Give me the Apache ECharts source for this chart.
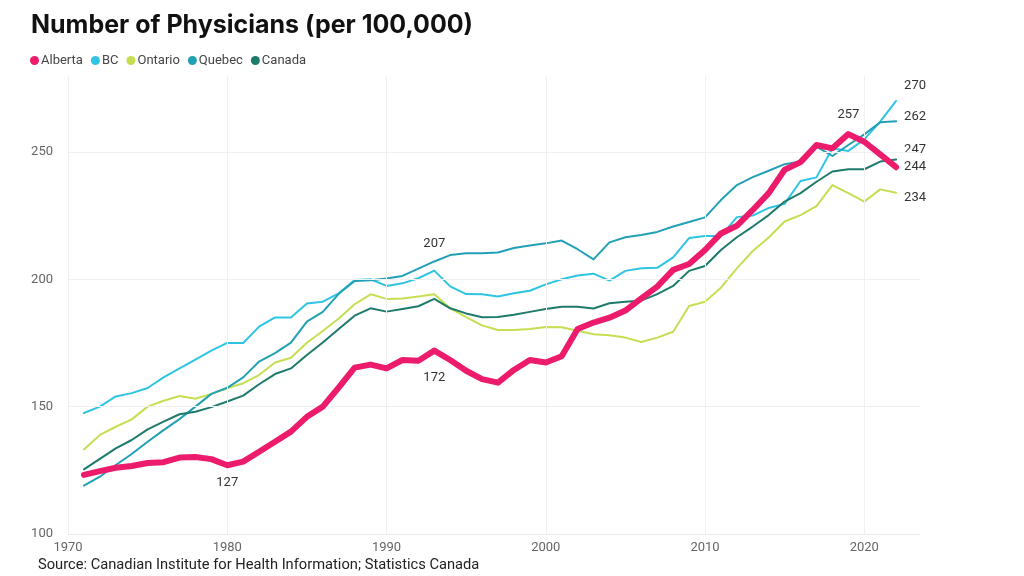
<!DOCTYPE html>
<html>
<head>
<meta charset="utf-8">
<script src="https://cdn.jsdelivr.net/npm/echarts@6/dist/echarts.min.js"></script>
<style>
html,body{margin:0;padding:0;background:#fff;}
#chart{width:1024px;height:576px;}
</style>
</head>
<body>
<div id="chart"></div>
<script>
var years = [];
for (var yr = 1971; yr <= 2022; yr++) years.push(yr);

var alberta = [123.2,124.7,126,126.7,127.9,128.2,130,130.2,129.4,127,128.4,132.3,136.2,140.2,146,150,157.5,165.3,166.5,165,168.3,168,172,168.3,164.1,160.8,159.4,164.4,168.3,167.3,169.8,180.5,183,184.9,187.7,192.5,197.1,203.7,206,211.5,218,221,227.2,233.8,243,246,252.7,251.4,257,254,249,244];
var bc = [147.5,150,154,155.3,157.3,161.5,165,168.5,172,175,175,181.4,185,185,190.5,191.2,194.5,199.7,200,197.4,198.4,200.4,203.4,197.2,194.2,194.1,193.2,194.5,195.5,198,200,201.5,202.2,199.5,203.3,204.3,204.5,208.6,216.2,217,217,224.4,225,228,229.6,238.6,240,251.4,250.4,254.9,261.9,270];
var ontario = [133.2,138.9,142.1,145,150,152.3,154.2,153.1,155,157.2,159.2,162.4,167.3,169.2,175.1,179.7,184.6,190.2,194.1,192.3,192.5,193.2,194.1,188.6,185.1,181.9,180.1,180.1,180.5,181.3,181.2,179.8,178.4,178,177.1,175.4,177.1,179.4,189.5,191.2,196.7,204.3,211.1,216.4,222.7,225.2,228.7,237,233.8,230.5,235.3,234];
var quebec = [119,122.5,127.1,131.4,136.2,140.8,145.1,150,155,157.4,161.5,167.7,171,175.1,183.4,187.2,194.3,199.3,199.6,200.3,201.3,204.2,207,209.5,210.2,210.2,210.5,212.3,213.3,214.1,215.2,211.8,207.8,214.5,216.5,217.4,218.6,220.7,222.5,224.3,231.1,237,240.1,242.6,245.2,246.2,252.1,248.4,252.7,256.9,261.6,262];
var canada = [125.4,129.5,133.6,136.9,141.1,144.1,147,148,149.8,152,154.3,158.8,162.8,165,170.3,175.2,180.5,185.7,188.6,187.3,188.3,189.4,192.3,188.6,186.6,185.1,185.2,186.1,187.2,188.3,189.2,189.2,188.5,190.6,191.2,191.6,194.2,197.4,203.3,205.2,211.5,216.5,220.7,225.2,230.5,233.8,238.3,242.3,243.2,243.2,246.2,247];

var seriesNames = ['Alberta','BC','Ontario','Quebec','Canada'];
var seriesData = [alberta, bc, ontario, quebec, canada];
var colors = ['#EC1B6B','#2FC5E2','#C6DE52','#22A0B6','#1E7B6B'];
var widths = [6, 2, 2, 2, 2];

var yTicks = [150, 200, 250];
var xTicks = [1970, 1980, 1990, 2000, 2010, 2020];

// labelled points: series index -> list of [year, dx, dy, align]
var labelSpec = {
  0: [[1980,0,18,'center'],[1993,0,27,'center'],[2019,0,-19,'center'],[2022,8,0,'left']],
  1: [[2022,8,-15,'left']],
  2: [[2022,8,5,'left']],
  3: [[1993,0,-18,'center'],[2022,8,-5,'left']],
  4: [[2022,8,-10,'left']]
};

var series = [];
series.push({
  name: '_grid', type: 'line', data: [[1970,100]], symbol: 'none',
  lineStyle: { opacity: 0 }, silent: true, z: 0, legendHoverLink: false,
  markLine: {
    silent: true, symbol: 'none', label: { show: false },
    lineStyle: { color: '#f0f0f0', type: 'solid', width: 1 },
    data: yTicks.map(function(v){ return { yAxis: v }; })
      .concat(xTicks.map(function(v){ return { xAxis: v }; }))
  }
});

seriesData.forEach(function(arr, si){
  var spec = labelSpec[si] || [];
  var data = arr.map(function(v, i){
    var item = { value: [years[i], v] };
    spec.forEach(function(s){
      if (s[0] === years[i]) {
        item.label = {
          show: true, position: [s[1], s[2]], align: s[3], verticalAlign: 'middle',
          formatter: function(p){ return Math.round(p.value[1]); },
          fontFamily: 'Roboto', fontSize: 13, color: '#333'
        };
      }
    });
    return item;
  });
  series.push({
    name: seriesNames[si], type: 'line', data: data,
    symbol: 'circle', symbolSize: 0, showSymbol: true, showAllSymbol: true,
    smooth: false, color: colors[si],
    lineStyle: { width: widths[si], color: colors[si], cap: 'round', join: 'round' },
    z: si === 0 ? 5 : 3,
    label: { show: false },
    labelLayout: { hideOverlap: false },
    emphasis: { disabled: true }
  });
});

var chart = echarts.init(document.getElementById('chart'), null, { renderer: 'canvas' });
chart.setOption({
  animation: false,
  backgroundColor: '#ffffff',
  title: {
    text: 'Number of Physicians (per 100,000)',
    left: 26, top: 8,
    textStyle: { fontFamily: 'Inter', fontWeight: 'bold', fontSize: 25, color: '#111' }
  },
  legend: {
    data: seriesNames, left: 25, top: 49, icon: 'circle',
    itemWidth: 9, itemHeight: 9, itemGap: 8,
    textStyle: { fontFamily: 'Roboto', fontSize: 13, color: '#444', padding: [0, 0, 0, -3] }
  },
  grid: { left: 68, right: 104, top: 75.5, bottom: 42, containLabel: false },
  xAxis: {
    type: 'value', min: 1970, max: 2023.5, interval: 10,
    axisLine: { show: true, lineStyle: { color: '#eaeaea', width: 1 } },
    axisTick: { show: false },
    splitLine: { show: false },
    axisLabel: { showMaxLabel: false, color: '#666', fontFamily: 'Roboto', fontSize: 13, margin: 7,
      formatter: function(v){ return String(v); } }
  },
  yAxis: {
    type: 'value', min: 100, max: 280, interval: 50,
    axisLine: { show: false }, axisTick: { show: false },
    splitLine: { show: false },
    axisLabel: { showMaxLabel: false, color: '#666', fontFamily: 'Roboto', fontSize: 13, margin: 15 }
  },
  graphic: [{
    type: 'text', left: 38, top: 558,
    style: { text: 'Source: Canadian Institute for Health Information; Statistics Canada',
      fontFamily: 'Roboto', fontSize: 14.7, fill: '#222' }
  }],
  series: series
});
</script>
</body>
</html>
